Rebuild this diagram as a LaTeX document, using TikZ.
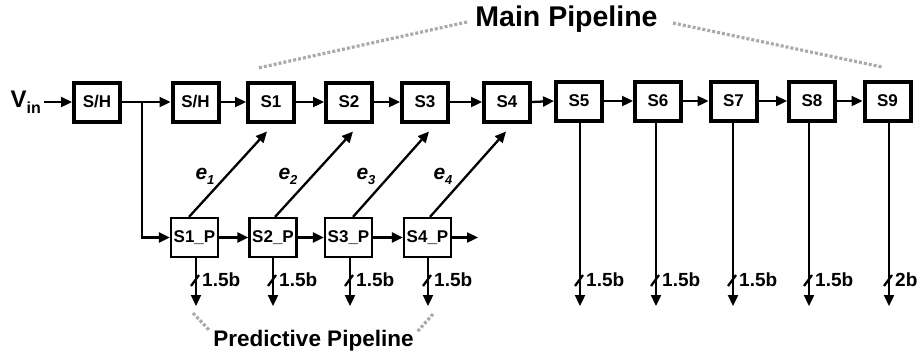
\documentclass[tikz,border=0pt]{standalone}
\usepackage{fontspec}
\setmainfont{Liberation Sans}
\usetikzlibrary{arrows.meta}
\definecolor{dotgray}{RGB}{170,170,170}
\begin{document}
\begin{tikzpicture}[x=1pt,y=-1pt,
  mainbox/.style={draw,line width=4pt,minimum width=46pt,minimum height=39pt,inner sep=0pt,font=\fontsize{17}{18}\selectfont\bfseries},
  predbox/.style={draw,line width=2.2pt,minimum width=47pt,minimum height=39pt,inner sep=0pt,font=\fontsize{17}{18}\selectfont\bfseries},
  conn/.style={line width=2.3pt,-{Triangle[length=11pt,width=10pt]}},
  plain/.style={line width=2.3pt},
  bits/.style={anchor=west,inner sep=0pt,font=\fontsize{19}{20}\selectfont\bfseries},
  errlbl/.style={inner sep=0pt,font=\fontsize{21}{22}\selectfont\bfseries\itshape},
  title/.style={inner sep=0pt,font=\bfseries},
  dots/.style={dotgray,line width=3.2pt,dash pattern=on 3pt off 2pt}
]
\useasboundingbox (0,0) rectangle (921,360);

% input
\node[inner sep=0pt,anchor=east,font=\bfseries] (vin) at (41,102)
  {{\fontsize{24}{25}\selectfont V}\raisebox{-6pt}{\fontsize{16}{17}\selectfont in}};

% main pipeline
\node[mainbox] (sh1) at (97,102) {S/H};
\node[mainbox] (sh2) at (195.5,102) {S/H};
\node[mainbox] (s1) at (271,102) {S1};
\node[mainbox] (s2) at (349,102) {S2};
\node[mainbox] (s3) at (425,102) {S3};
\node[mainbox] (s4) at (507,102) {S4};
\node[mainbox] (s5) at (579,101) {S5};
\node[mainbox] (s6) at (658,101) {S6};
\node[mainbox] (s7) at (733.5,101) {S7};
\node[mainbox] (s8) at (812,101) {S8};
\node[mainbox] (s9) at (887.5,101) {S9};

% predictive pipeline
\node[predbox] (p1) at (194.5,237.5) {S1\_P};
\node[predbox] (p2) at (273,237.5) {S2\_P};
\node[predbox] (p3) at (348.5,237.5) {S3\_P};
\node[predbox] (p4) at (427.5,237.5) {S4\_P};

\draw[conn] ([xshift=3pt]vin.east) -- (sh1.west);
\draw[conn] (sh1.east) -- (sh2.west);
\coordinate (br) at (142,102);
\draw[conn] (br) |- (p1.west);
\draw[conn] (sh2.east) -- (s1.west);
\draw[conn] (s1.east) -- (s2.west);
\draw[conn] (s2.east) -- (s3.west);
\draw[conn] (s3.east) -- (s4.west);
\draw[conn] (s4.east) -- (s5.west);
\draw[conn] (s5.east) -- (s6.west);
\draw[conn] (s6.east) -- (s7.west);
\draw[conn] (s7.east) -- (s8.west);
\draw[conn] (s8.east) -- (s9.west);

\draw[conn] (p1.east) -- (p2.west);
\draw[conn] (p2.east) -- (p3.west);
\draw[conn] (p3.east) -- (p4.west);
\coordinate (pend) at (478,237.5);
\draw[conn] (p4.east) -- (pend);

% error feeds
\draw[conn] ([xshift=-5.5pt]p1.north) -- ([xshift=-4pt,yshift=-8pt]s1.south);
\draw[conn] ([xshift=2pt]p2.north) -- ([xshift=4pt,yshift=-8pt]s2.south);
\draw[conn] ([xshift=4.5pt]p3.north) -- ([xshift=4pt,yshift=-8pt]s3.south);
\draw[conn] ([xshift=2.5pt]p4.north) -- ([xshift=-1pt,yshift=-8pt]s4.south);
\node[errlbl] (e1) at (205,176) {e\raisebox{-5pt}{\fontsize{13}{14}\selectfont 1}};
\node[errlbl] (e2) at (288,176) {e\raisebox{-5pt}{\fontsize{13}{14}\selectfont 2}};
\node[errlbl] (e3) at (366,176) {e\raisebox{-5pt}{\fontsize{13}{14}\selectfont 3}};
\node[errlbl] (e4) at (443,176) {e\raisebox{-5pt}{\fontsize{13}{14}\selectfont 4}};

% outputs
\foreach \n/\x/\lab in {p1/196/1.5b,p2/273/1.5b,p3/350/1.5b,p4/428/1.5b}{
  \coordinate (o\n) at (\x,306);
  \draw[conn] (\n.south -| o\n) -- (o\n);
  \draw[plain] (\x-5,286) -- (\x+3,275);
  \node[bits] (b\n) at (\x+6,280) {\lab};
}
\foreach \n/\x/\lab in {s5/580/1.5b,s6/656/1.5b,s7/733/1.5b,s8/809/1.5b,s9/889/2b}{
  \coordinate (o\n) at (\x,306);
  \draw[conn] (\n.south -| o\n) -- (o\n);
  \draw[plain] (\x-5,286) -- (\x+3,275);
  \node[bits] (b\n) at (\x+6,280) {\lab};
}

% titles
\node[title,font=\fontsize{28.5}{30}\selectfont\bfseries] (mt) at (566.5,19) {Main Pipeline};
\coordinate (ml1) at (467,22);
\coordinate (ml2) at (258,68);
\coordinate (mr1) at (673,23);
\coordinate (mr2) at (882,67);
\draw[dots] (ml1) -- (ml2);
\draw[dots] (mr1) -- (mr2);

\node[title,font=\fontsize{22.5}{24}\selectfont\bfseries] (pt) at (313.5,341) {Predictive Pipeline};
\coordinate (pl1) at (193,313);
\coordinate (pl2) at (210,331);
\coordinate (pr1) at (433,314);
\coordinate (pr2) at (417,332);
\draw[dots] (pl1) -- (pl2);
\draw[dots] (pr1) -- (pr2);
\end{tikzpicture}
\end{document}
